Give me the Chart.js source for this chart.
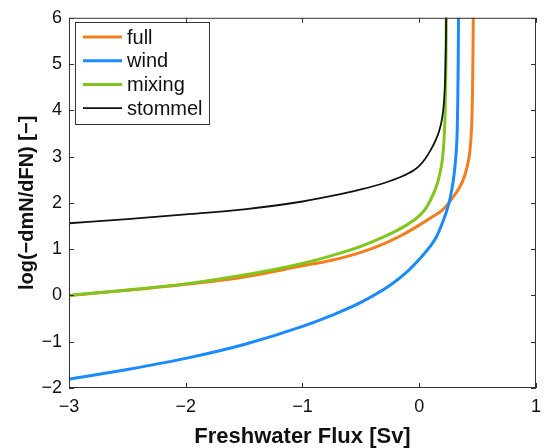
<!DOCTYPE html>
<html>
<head>
<meta charset="utf-8">
<script src="https://cdn.jsdelivr.net/npm/chart.js@4/dist/chart.umd.min.js"></script>
<style>
  html, body { margin: 0; padding: 0; background: #fff; }
  #wrap { width: 549px; height: 448px; }
</style>
</head>
<body>
<div id="wrap"><canvas id="c" width="549" height="448"></canvas></div>
<script>
// ---- data ----
const seriesNames = ["full", "wind", "mixing", "stommel"];

const fullX = [-3, -2.5, -2, -1.5, -1, -0.75, -0.5, -0.3, -0.15, 0, 0.1, 0.2, 0.3, 0.37, 0.41, 0.435, 0.45, 0.457, 0.461, 0.464];
const fullY = [0.0, 0.11, 0.24, 0.40, 0.64, 0.76, 0.93, 1.12, 1.30, 1.52, 1.68, 1.85, 2.16, 2.46, 2.78, 3.15, 3.75, 4.5, 5.4, 6.4];

const windX = [-3, -2.5, -2, -1.5, -1, -0.75, -0.5, -0.25, -0.1, 0, 0.1, 0.15, 0.2, 0.25, 0.28, 0.3, 0.315, 0.325, 0.33, 0.334, 0.337];
const windY = [-1.81, -1.60, -1.36, -1.06, -0.67, -0.43, -0.15, 0.22, 0.52, 0.78, 1.08, 1.28, 1.58, 1.95, 2.30, 2.65, 3.05, 3.55, 4.2, 5.1, 6.4];

const mixingX = [-3, -2.5, -2, -1.5, -1, -0.75, -0.5, -0.3, -0.15, -0.05, 0, 0.05, 0.09, 0.13, 0.16, 0.19, 0.205, 0.215, 0.222, 0.227, 0.23, 0.233];
const mixingY = [0.0, 0.12, 0.25, 0.44, 0.69, 0.86, 1.06, 1.27, 1.46, 1.62, 1.72, 1.86, 2.03, 2.25, 2.46, 2.8, 3.1, 3.5, 4.0, 4.7, 5.5, 6.4];

const stommelX = [-3, -2.5, -2, -1.5, -1, -0.75, -0.5, -0.3, -0.15, -0.05, 0, 0.05, 0.1, 0.14, 0.17, 0.19, 0.205, 0.215, 0.222, 0.226, 0.229, 0.231];
const stommelY = [1.56, 1.65, 1.75, 1.86, 2.03, 2.15, 2.29, 2.43, 2.57, 2.7, 2.8, 2.95, 3.15, 3.35, 3.55, 3.75, 4.0, 4.3, 4.7, 5.1, 5.6, 6.4];

const xTicks = [-3, -2, -1, 0, 1];
const yTicks = [-2, -1, 0, 1, 2, 3, 4, 5, 6];

const colors = ["#F27E1E", "#1A8AFF", "#80C61E", "#111111"];
const widths = [3, 3, 3, 1.8];

// ---- build ----
const toPts = (xs, ys) => xs.map((x, i) => ({ x: x, y: ys[i] }));
const allX = [fullX, windX, mixingX, stommelX];
const allY = [fullY, windY, mixingY, stommelY];

const datasets = seriesNames.map((name, i) => ({
  label: name,
  data: toPts(allX[i], allY[i]),
  borderColor: colors[i],
  backgroundColor: colors[i],
  borderWidth: widths[i],
  showLine: true,
  pointRadius: 0,
  cubicInterpolationMode: 'monotone',
  order: 3 - i
}));

const FONT = "'Liberation Sans', Arial, Helvetica, sans-serif";
const minus = v => String(v).replace('-', '\u2212');

const framePlugin = {
  id: 'frame',
  afterDatasetsDraw(chart) {
    const { ctx, chartArea: { left, right, top, bottom }, scales: { x, y } } = chart;
    ctx.save();
    ctx.strokeStyle = '#333';
    ctx.lineWidth = 1;
    ctx.strokeRect(left + 0.5, top + 0.5, right - left - 1, bottom - top - 1);
    const tl = 5;
    ctx.beginPath();
    xTicks.forEach(v => {
      const px = Math.round(x.getPixelForValue(v)) + 0.5;
      ctx.moveTo(px, bottom); ctx.lineTo(px, bottom - tl);
      ctx.moveTo(px, top); ctx.lineTo(px, top + tl);
    });
    yTicks.forEach(v => {
      const py = Math.round(y.getPixelForValue(v)) + 0.5;
      ctx.moveTo(left, py); ctx.lineTo(left + tl, py);
      ctx.moveTo(right, py); ctx.lineTo(right - tl, py);
    });
    ctx.stroke();

    // legend (inside, top-left)
    const bx = 75.5, by = 22.5, bw = 134, bh = 102;
    ctx.fillStyle = '#fff';
    ctx.fillRect(bx, by, bw, bh);
    ctx.strokeStyle = '#333';
    ctx.lineWidth = 1;
    ctx.strokeRect(bx, by, bw, bh);
    ctx.font = '20px ' + FONT;
    ctx.textBaseline = 'middle';
    ctx.textAlign = 'left';
    chart.data.datasets.forEach((ds, i) => {
      const ry = 37 + i * 23.7;
      ctx.beginPath();
      ctx.strokeStyle = ds.borderColor;
      ctx.lineWidth = ds.borderWidth;
      ctx.moveTo(83, ry); ctx.lineTo(122, ry);
      ctx.stroke();
      ctx.fillStyle = '#111';
      ctx.fillText(ds.label, 127, ry + 1);
    });
    ctx.restore();
  }
};

new Chart(document.getElementById('c'), {
  type: 'scatter',
  data: { datasets },
  options: {
    responsive: false,
    animation: false,
    devicePixelRatio: 1,
    layout: { padding: { left: 0, right: 4, top: 15, bottom: 0 } },
    plugins: { legend: { display: false }, tooltip: { enabled: false } },
    scales: {
      x: {
        type: 'linear', min: -3, max: 1,
        afterBuildTicks: s => { s.ticks = xTicks.map(v => ({ value: v })); },
        afterFit: s => { s.height = 60; },
        grid: { display: false, drawTicks: false },
        border: { display: false },
        ticks: { padding: 8, color: '#111', font: { family: FONT, size: 18 }, callback: minus, maxRotation: 0 },
        title: { display: true, text: 'Freshwater Flux [Sv]', color: '#111', padding: { top: 0, bottom: -2.5 }, font: { family: FONT, size: 22, weight: 'bold' } }
      },
      y: {
        type: 'linear', min: -2, max: 6,
        afterBuildTicks: s => { s.ticks = yTicks.map(v => ({ value: v })); },
        afterFit: s => { s.width = 69; },
        grid: { display: false, drawTicks: false },
        border: { display: false },
        ticks: { padding: 7, color: '#111', font: { family: FONT, size: 18 }, callback: minus },
        title: { display: true, text: 'log(\u2212dmN/dFN) [\u2212]', color: '#111', padding: { top: 15, bottom: 0 }, font: { family: FONT, size: 20, weight: 'bold' } }
      }
    }
  },
  plugins: [framePlugin]
});
</script>
</body>
</html>
